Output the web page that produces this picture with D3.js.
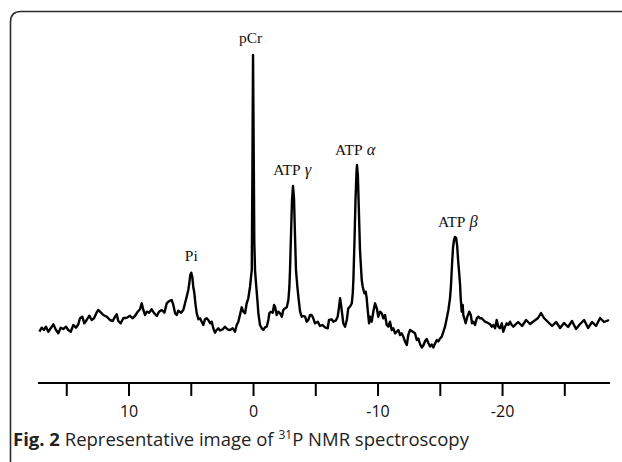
<!DOCTYPE html>
<html>
<head>
<meta charset="utf-8">
<script src="https://d3js.org/d3.v7.min.js"></script>
<style>
  body { margin: 0; background: white; }
  svg { display: block; }
</style>
</head>
<body>
<script>
// chemical shift (ppm) and signal (arbitrary units)
var shiftPpm = [17.16,16.97,16.79,16.63,16.44,16.25,16.04,15.82,15.64,15.45,15.24,15.02,14.84,14.64,14.43,14.22,14.03,13.90,13.71,13.55,13.36,13.15,12.96,12.77,12.55,12.43,12.23,12.02,11.75,11.49,11.27,11.08,10.95,10.82,10.63,10.42,10.14,9.88,
  9.69,9.48,9.26,9.08,8.94,8.81,8.67,8.54,8.35,8.14,7.93,7.73,7.55,7.33,7.12,6.93,6.80,6.67,6.53,6.40,6.26,6.13,6.00,5.78,5.60,5.46,5.33,5.20,5.12,5.04,4.96,4.88,4.80,4.71,4.63,4.52,4.39,4.26,4.12,3.99,3.86,3.72,3.59,3.45,3.32,3.19,3.05,2.92,2.79,2.65,
  2.43,2.25,2.06,1.85,1.63,1.45,1.31,1.18,0.99,0.91,0.78,0.64,0.51,0.38,0.24,0.16,0.10,0.06,0,-0.06,-0.10,-0.16,-0.24,-0.35,-0.43,-0.56,-0.70,-0.83,-0.96,-1.10,-1.23,-1.31,-1.42,-1.58,-1.69,-1.77,-1.90,-2.03,-2.17,-2.31,-2.43,-2.57,-2.71,-2.84,-2.92,-2.97,-3.05,-3.13,-3.21,-3.29,-3.37,-3.45,-3.56,-3.67,-3.78,-3.91,-4.04,-4.18,-4.31,-4.44,-4.58,-4.71,-4.84,-4.98,
  -5.20,-5.38,-5.57,-5.78,-6.00,-6.10,-6.32,-6.45,-6.64,-6.80,-6.91,-6.99,-7.07,-7.17,-7.25,-7.39,-7.53,-7.65,-7.79,-7.93,-8.01,-8.06,-8.15,-8.23,-8.31,-8.35,-8.42,-8.50,-8.59,-8.73,-8.81,-8.94,-9.05,-9.13,-9.21,-9.32,-9.40,-9.53,-9.66,-9.80,-9.94,-10.06,-10.20,-10.34,-10.47,-10.60,-10.74,-10.87,-11.00,-11.14,-11.27,-11.41,-11.54,-11.67,-11.81,-11.94,-12.07,-12.21,-12.35,-12.47,
  -12.61,-12.83,-13.01,-13.15,-13.28,-13.41,-13.55,-13.68,-13.82,-13.95,-14.08,-14.22,-14.35,-14.48,-14.62,-14.76,-14.88,-15.02,-15.16,-15.29,-15.42,-15.56,-15.69,-15.82,-15.90,-15.98,-16.06,-16.14,-16.22,-16.31,-16.39,-16.47,-16.55,-16.63,-16.68,-16.76,-16.84,-16.89,-16.97,-17.08,-17.21,-17.37,-17.49,-17.59,-17.70,-17.83,-17.97,-18.10,-18.23,-18.37,-18.50,-18.63,-18.77,-18.90,-19.04,-19.17,-19.30,-19.44,-19.57,-19.70,-19.84,-19.98,-20.10,-20.24,-20.38,-20.51,-20.64,-20.78,-20.91,-21.04,
  -21.29,-21.61,-21.93,-22.25,-22.57,-22.89,-23.13,-23.37,-23.69,-24.02,-24.34,-24.66,-24.98,-25.30,-25.62,-25.94,-26.27,-26.59,-26.91,-27.23,-27.55,-27.87,-28.19,-28.59];
var signal = [28.3,32.3,30,33.3,28.3,31.7,35.7,30,26.7,32.3,31,33.3,30,28.3,35,32.3,35.7,41.7,43.3,36.7,40,44.3,40,41.7,47.7,50,47.7,45,43.3,40,39,43.3,45.7,39,36.7,41.7,42.3,44.3,
  41.7,44,48.3,50.7,56.7,50,45,48.3,47.3,50.7,46.7,44,48.3,50,47.3,56.7,58.3,59.3,60,55,46.7,45,49.3,47.3,50,56.7,63.3,70,76.7,85,87.3,83.3,73.3,66.7,56.7,46.7,40.7,41.7,38.3,35,40.7,41.7,40,36.7,38.3,31.7,27.3,30,31.7,29.5,
  30.7,33.3,30.7,30,31.7,28.3,35,38.3,48.3,52.7,48.3,46.7,56.7,61.7,73.3,83.3,90,170,305,200,120,90,76.7,60,46.7,35,31.7,30,32.7,33.3,40,46.7,48.3,47.3,55,53.3,45,48.3,46.7,43.3,50,51.7,52.7,60,73.3,90,125,160,174,162,125,90,73.3,60,48.3,43.3,44,43.3,38.3,40,45,45,41.7,36.7,
  38.3,34,35,32.7,31.7,40,40.7,38.3,39.3,43.3,53.3,61.7,55,45,36.7,33.3,40,51.7,53.3,56.7,66.7,80,120,160,188,195,185,150,110,80,73.3,66.7,68.3,61.7,50,36.7,43.3,38.3,48.3,56.7,51.7,43.3,48.3,46.7,41.7,45,35,33.3,38.3,30,31.7,26.7,28.3,30,25,26.7,23.3,18.3,15,25,
  30,28.3,26.7,20,21.5,16,12.5,14.5,19,21,17,13.5,15.5,12.5,16.5,20,18.5,21.5,23.3,28.3,33.3,41.7,50,61.7,75,95,112,120,123,122,115,100,88,75,61.7,48.3,55,45,41.7,36.7,43.3,48.3,45,36.7,38.3,35,41.7,43.3,41.7,41.7,40,38.3,37.7,36.7,35.7,33.3,35,31.7,40,33.3,31.7,36.7,28.3,33.3,36.7,35,38.3,35,33.3,35,
  38,34,40,36,39,42,47,42,38,34,38,32,37,33,39,31,36,40,32,38,34,42,38,40];

var tickValues = [15, 10, 5, 0, -5, -10, -15, -20, -25];
var tickLabels = ["", "10", "", "0", "", "-10", "", "-20", ""];

var peakNames = ["Pi", "pCr", "ATP", "ATP", "ATP"];
var peakGreek = ["", "", "\u03b3", "\u03b1", "\u03b2"];
var peakPpm = [4.96, 0.2, -3.15, -8.2, -16.45];
var labelLevel = [99, 317, 185, 205, 133];

var width = 622, height = 462;

var svg = d3.select("body").append("svg")
  .attr("width", width).attr("height", height);

// frame, rounded at the top left
svg.append("path")
  .attr("d", "M10.5,470 L10.5,22 Q10.5,11.5 21,11.5 L630,11.5")
  .attr("fill", "none")
  .attr("stroke", "#2b2b2b")
  .attr("stroke-width", 1.6);

var x = d3.scaleLinear().domain([17.27, -28.67]).range([38, 610]);
var y = d3.scaleLinear().domain([0, 305]).range([360, 55]);

var pts = shiftPpm.map(function(d, i) { return [d, signal[i]]; });

var line = d3.line()
  .x(function(d) { return x(d[0]); })
  .y(function(d) { return y(d[1]); });

svg.append("path")
  .datum(pts)
  .attr("d", line)
  .attr("fill", "none")
  .attr("stroke", "black")
  .attr("stroke-width", 2.4)
  .attr("stroke-linejoin", "round");

// peak labels (greek letter in italics)
var lab = svg.append("g").selectAll("text")
  .data(peakNames)
  .enter().append("text")
  .attr("x", function(d, i) { return x(peakPpm[i]); })
  .attr("y", function(d, i) { return y(labelLevel[i]); })
  .attr("text-anchor", "middle")
  .attr("font-family", "'Liberation Serif', 'DejaVu Serif', serif")
  .attr("font-size", 15.5)
  .attr("fill", "#111");
lab.append("tspan").text(function(d) { return d; });
lab.append("tspan")
  .attr("font-style", "italic")
  .attr("font-size", 16.5)
  .text(function(d, i) { return peakGreek[i] ? "\u00a0" + peakGreek[i] : ""; });

// ppm axis
var axis = svg.append("g")
  .attr("transform", "translate(0,383)")
  .call(d3.axisBottom(x)
    .tickValues(tickValues)
    .tickSize(13)
    .tickPadding(10)
    .tickFormat(function(d, i) { return tickLabels[i]; }));

axis.select(".domain")
  .attr("d", "M" + x.range()[0] + ",0H" + x.range()[1])
  .attr("stroke-width", 2);
axis.selectAll(".tick line").attr("stroke-width", 2);
axis.selectAll(".tick text")
  .attr("font-family", "'Open Sans', 'Liberation Sans', sans-serif")
  .attr("font-size", 16)
  .attr("fill", "#111");

// caption
var cap = svg.append("text")
  .attr("x", 13)
  .attr("y", 446)
  .attr("font-family", "'Open Sans', sans-serif")
  .attr("font-size", 18.5)
  .attr("fill", "#222");
cap.append("tspan").attr("font-weight", "bold").text("Fig. 2");
cap.append("tspan").text(" Representative image of ");
cap.append("tspan").attr("font-size", 12).attr("dy", -7).text("31");
cap.append("tspan").attr("dy", 7).text("P NMR spectroscopy");
</script>
</body>
</html>
